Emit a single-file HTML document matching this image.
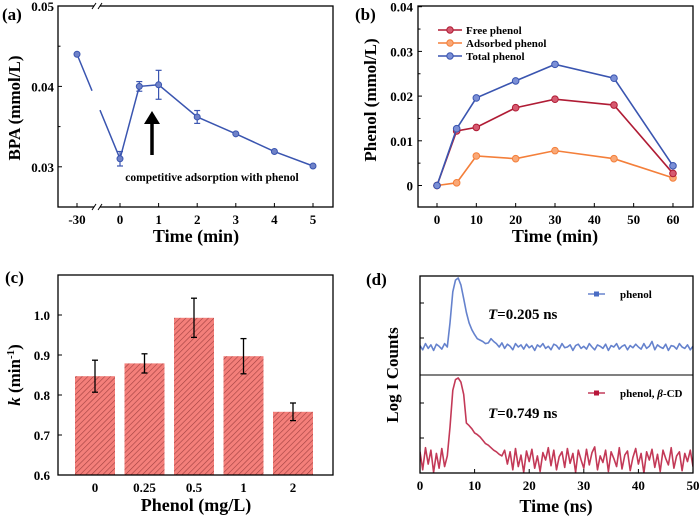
<!DOCTYPE html>
<html><head><meta charset="utf-8"><style>
html,body{margin:0;padding:0;background:#fff;}
svg{display:block;font-family:"Liberation Serif",serif;font-weight:bold;}
</style></head><body>
<svg id="fig" width="700" height="517" viewBox="0 0 700 517">
<defs>
<pattern id="hatch" patternUnits="userSpaceOnUse" width="4" height="4" patternTransform="rotate(45)">
<rect width="4" height="4" fill="#f47f7a"/><line x1="0" y1="0" x2="0" y2="4" stroke="#a04040" stroke-width="1.2"/>
</pattern>
<clipPath id="dclip"><rect x="420" y="276" width="273" height="197"/></clipPath>
</defs>
</svg>
<script>
// ---- Panel (a) data ----
const aTimes=[-30,0,0.5,1,2,3,4,5];
const aBPA=[0.0440,0.0310,0.0400,0.0402,0.0362,0.0341,0.0319,0.0301];
const aErr=[0.0002,0.0009,0.0006,0.0018,0.0008,0.0002,0.0002,0.0002];
const aXTicks=[-30,0,1,2,3,4,5];
const aYTicks=[0.05,0.04,0.03];
// ---- Panel (b) data ----
const bTimes=[0,5,10,20,30,45,60];
const bFree=[0,0.0122,0.0130,0.0174,0.0193,0.0180,0.0027];
const bAds=[0,0.0006,0.0066,0.0060,0.0078,0.0060,0.0017];
const bTotal=[0,0.0127,0.0196,0.0234,0.0271,0.0240,0.0044];
const bXTicks=[0,10,20,30,40,50,60];
const bYTicks=[0,0.01,0.02,0.03,0.04];
const bYLabels=["0","0.01","0.02","0.03","0.04"];
// ---- Panel (c) data ----
const cCats=["0","0.25","0.5","1","2"];
const cK=[0.847,0.879,0.993,0.897,0.758];
const cErr=[0.040,0.024,0.049,0.044,0.022];
const cYTicks=[0.6,0.7,0.8,0.9,1.0];
// ---- Panel (d) data (0.5 ns steps, 0..50 ns) ----
const dStep=0.5;
const dPhenol=[0.02,-0.04,0.05,-0.02,0.03,-0.05,0.04,0.01,-0.03,0.05,0.0,0.35,0.8,0.97,1.0,0.9,0.7,0.5,0.35,0.25,0.18,0.12,0.1,0.08,0.05,0.06,0.12,0.08,0.05,0.0,0.06,-0.02,0.04,0.01,-0.04,0.05,0.0,0.03,-0.03,0.04,-0.01,0.02,-0.05,0.03,0.0,0.05,-0.02,0.01,-0.04,0.04,0.02,-0.03,0.05,-0.01,0.0,0.03,-0.05,0.02,0.04,-0.02,0.01,-0.03,0.05,0.0,-0.04,0.03,0.01,-0.02,0.04,-0.05,0.02,0.0,0.05,-0.03,0.01,0.03,-0.04,0.02,-0.01,0.04,0.0,-0.03,0.05,-0.02,0.01,0.08,-0.04,0.03,0.0,-0.02,0.04,-0.05,0.02,0.01,-0.03,0.05,0.0,-0.02,0.03,-0.04,0.01];
const dPhenolCD=[0.1,-0.12,0.15,-0.05,0.12,-0.15,0.08,-0.1,0.14,-0.08,0.05,0.4,0.85,0.98,1.0,0.95,0.8,0.45,0.42,0.38,0.33,0.31,0.28,0.24,0.2,0.18,0.15,0.12,0.1,0.07,0.05,0.12,-0.05,0.1,-0.12,0.14,-0.08,0.06,-0.15,0.11,-0.02,0.13,-0.1,0.05,-0.14,0.09,0.0,0.15,-0.07,0.12,-0.12,0.04,0.1,-0.09,0.14,-0.04,0.08,-0.15,0.12,0.0,-0.1,0.13,-0.06,0.09,0.16,-0.12,0.05,-0.03,0.12,-0.14,0.1,0.02,-0.08,0.15,-0.11,0.06,0.11,-0.13,0.03,0.14,-0.05,0.08,-0.16,0.1,0.0,0.13,-0.09,0.07,-0.14,0.12,0.02,-0.06,0.15,-0.1,0.05,0.1,-0.13,0.08,-0.02,0.12,-0.08];

const NS='http://www.w3.org/2000/svg';
const svg=document.getElementById('fig');
function mk(tag,attrs,parent){const e=document.createElementNS(NS,tag);for(const k in attrs)e.setAttribute(k,attrs[k]);(parent||svg).appendChild(e);return e;}
function txt(s,x,y,size,anchor,parent){const t=mk('text',{x:x,y:y,'font-size':size,'text-anchor':anchor||'middle',fill:'#000'},parent);t.textContent=s;return t;}

// ================= Panel (a) =================
(function(){
const g=mk('g',{});


const L=58,R=333,T=6,B=207;
const y=v=>T+(0.05-v)/(0.025)*(B-T);
const x=t=>t<0?77:120+t*38.6;
const box=mk('rect',{x:L,y:T,width:R-L,height:B-T,fill:'none',stroke:'#000','stroke-width':1.3},g);


[[97,B],[97,T]].forEach(p=>{mk('rect',{x:p[0]-3,y:p[1]-3,width:6,height:6,fill:'#fff'},g);
mk('line',{x1:p[0]-5,y1:p[1]+3,x2:p[0]-1,y2:p[1]-3,stroke:'#000','stroke-width':1},g);
mk('line',{x1:p[0]+1,y1:p[1]+3,x2:p[0]+5,y2:p[1]-3,stroke:'#000','stroke-width':1},g);});
aYTicks.forEach(v=>{mk('line',{x1:L,y1:y(v),x2:L+4,y2:y(v),stroke:'#000'},g);
const t=txt(v.toFixed(2),L-4,y(v)+5,13,'end',g);});
[0.045,0.035].forEach(v=>mk('line',{x1:L,y1:y(v),x2:L+2.5,y2:y(v),stroke:'#000'},g));
aXTicks.forEach(v=>{mk('line',{x1:x(v),y1:B,x2:x(v),y2:B-4,stroke:'#000'},g);
const t=txt(String(v),x(v),B+17,13,'middle',g);});
let d='';
aTimes.forEach((t,i)=>{d+=(i?'L':'M')+x(t)+','+y(aBPA[i]);});
const ln=mk('path',{d:d,fill:'none',stroke:'#3a55b0','stroke-width':1.5},g);


const gx1=x(aTimes[0]),gx2=x(aTimes[1]),gy1=y(aBPA[0]),gy2=y(aBPA[1]);
const f1=(92-gx1)/(gx2-gx1),f2=(100-gx1)/(gx2-gx1);
mk('line',{x1:92,y1:gy1+(gy2-gy1)*f1,x2:100,y2:gy1+(gy2-gy1)*f2,stroke:'#fff','stroke-width':4},g);
aTimes.forEach((t,i)=>{
const cx=x(t),e=aErr[i];
if(e>0.0004){mk('line',{x1:cx,y1:y(aBPA[i]+e),x2:cx,y2:y(aBPA[i]-e),stroke:'#3a55b0','stroke-width':1.2},g);
[aBPA[i]+e,aBPA[i]-e].forEach(v=>mk('line',{x1:cx-3,y1:y(v),x2:cx+3,y2:y(v),stroke:'#3a55b0','stroke-width':1.2},g));}
const c=mk('circle',{cx:cx,cy:y(aBPA[i]),r:3,fill:'#6f82c8',stroke:'#3a55b0','stroke-width':1},g);


});
const ar=mk('g',{},g);


mk('line',{x1:152,y1:155,x2:152,y2:120,stroke:'#000','stroke-width':3.5},ar);
mk('polygon',{points:'144,124 152,111 160,124',fill:'#000'},ar);
const an=txt('competitive adsorption with phenol',212,181,11.5,'middle',g);

const xt=txt('Time (min)',196,242,18,'middle',g);

const yt=txt('BPA (mmol/L)',0,0,17,'middle',g);yt.setAttribute('transform','translate(20,108) rotate(-90)');

const pl=txt('(a)',2,20,17,'start',g);
})();

// ================= Panel (b) =================
(function(){
const g=mk('g',{});


const L=418,R=693,T=6,B=207;
const y=v=>185.5-v*4470;
const x=t=>437+t*3.933;
const box=mk('rect',{x:L,y:T,width:R-L,height:B-T,fill:'none',stroke:'#000','stroke-width':1.3},g);

bYTicks.forEach((v,i)=>{mk('line',{x1:L,y1:y(v),x2:L+4,y2:y(v),stroke:'#000'},g);
const t=txt(bYLabels[i],L-5,y(v)+5,13,'end',g);
if(i<bYTicks.length-1)mk('line',{x1:L,y1:y(v+0.005),x2:L+2.5,y2:y(v+0.005),stroke:'#000'},g);});
bXTicks.forEach(v=>{mk('line',{x1:x(v),y1:B,x2:x(v),y2:B-4,stroke:'#000'},g);
const t=txt(String(v),x(v),B+17,13,'middle',g);});
const series=[['adsorbed',bAds,'#f47f3a','#f9a877'],['free',bFree,'#b01c35','#d65a70'],['total',bTotal,'#3a55b0','#7b8fd6']];
series.forEach(s=>{
let d='';bTimes.forEach((t,i)=>{d+=(i?'L':'M')+x(t)+','+y(s[1][i]);});
const p=mk('path',{d:d,fill:'none',stroke:s[2],'stroke-width':1.6},g);

bTimes.forEach((t,i)=>{const c=mk('circle',{cx:x(t),cy:y(s[1][i]),r:3.3,fill:s[3],stroke:s[2],'stroke-width':1},g);
});
});
const leg=[['Free phenol','#b01c35','#d65a70'],['Adsorbed phenol','#f47f3a','#f9a877'],['Total phenol','#3a55b0','#7b8fd6']];
leg.forEach((l,i)=>{const ly=30+i*13;
const e=mk('g',{},g);
mk('line',{x1:438,y1:ly,x2:462,y2:ly,stroke:l[1],'stroke-width':1.6},e);
mk('circle',{cx:450,cy:ly,r:3.2,fill:l[2],stroke:l[1]},e);
txt(l[0],466,ly+4,11,'start',e);});
const xt=txt('Time (min)',555,242,18,'middle',g);
const yt=txt('Phenol (mmol/L)',0,0,17,'middle',g);yt.setAttribute('transform','translate(376,100) rotate(-90)');

const pl=txt('(b)',355,20,17,'start',g);
})();

// ================= Panel (c) =================
(function(){
const g=mk('g',{});


const L=58,R=333,T=275,B=475;
const y=v=>B-(v-0.6)*400;
const x=i=>95+i*49.5;
cCats.forEach((c,i)=>{
const b=mk('rect',{x:x(i)-20,y:y(cK[i]),width:40,height:B-y(cK[i]),fill:'url(#hatch)'},g);

const e=cErr[i],cx=x(i);
const eb=mk('g',{},g);
mk('line',{x1:cx,y1:y(cK[i]+e),x2:cx,y2:y(cK[i]-e),stroke:'#000','stroke-width':1.3},eb);
[cK[i]+e,cK[i]-e].forEach(v=>mk('line',{x1:cx-3,y1:y(v),x2:cx+3,y2:y(v),stroke:'#000','stroke-width':1.3},eb));
const t=txt(c,cx,B+17,13,'middle',g);
});
const box=mk('rect',{x:L,y:T,width:R-L,height:B-T,fill:'none',stroke:'#000','stroke-width':1.3},g);

cYTicks.forEach(v=>{mk('line',{x1:L,y1:y(v),x2:L+4,y2:y(v),stroke:'#000'},g);
const t=txt(v.toFixed(1),L-8,y(v)+5,13,'end',g);});
const xt=txt('Phenol (mg/L)',196,511,18,'middle',g);
const yt=mk('text',{'font-size':17,'text-anchor':'middle',transform:'translate(20,375) rotate(-90)'},g);
yt.innerHTML='<tspan font-style="italic">k</tspan> (min<tspan dy="-6" font-size="11">-1</tspan><tspan dy="6">)</tspan>';

const pl=txt('(c)',5,283,17,'start',g);
})();

// ================= Panel (d) =================
(function(){
const g=mk('g',{});


const L=420,R=693,T=276,B=473,M=375;
const x=t=>L+t*(R-L)/50;
const yTop=v=>347-v*69, yBot=v=>460-v*82;
const cg=mk('g',{'clip-path':'url(#dclip)'},g);
function trace(arr,yf,col,name){let d='';arr.forEach((v,i)=>{d+=(i?'L':'M')+x(i*dStep).toFixed(1)+','+yf(v).toFixed(1);});
const p=mk('path',{d:d,fill:'none',stroke:col,'stroke-width':1.6,'stroke-opacity':0.85,'stroke-linejoin':'round'},cg);
}
trace(dPhenol,yTop,'#4a6cc4','phenol-decay-trace');
trace(dPhenolCD,yBot,'#b8163a','phenol-cd-decay-trace');
const box=mk('rect',{x:L,y:T,width:R-L,height:B-T,fill:'none',stroke:'#000','stroke-width':1.3},g);

mk('line',{x1:L,y1:M,x2:R,y2:M,stroke:'#000','stroke-width':1},g);
[303,338,403,438].forEach(v=>mk('line',{x1:L,y1:v,x2:L+4,y2:v,stroke:'#000'},g));
[0,10,20,30,40,50].forEach(v=>{mk('line',{x1:x(v),y1:B,x2:x(v),y2:B-4,stroke:'#000'},g);
const t=txt(String(v),x(v),B+17,13,'middle',g);});
[['phenol','#4a6cc4',294],['phenol, ','#b8163a',393]].forEach((l,i)=>{
const e=mk('g',{},g);
mk('line',{x1:588,y1:l[2],x2:605,y2:l[2],stroke:l[1],'stroke-width':1.3},e);
mk('rect',{x:594,y:l[2]-2.5,width:5,height:5,fill:l[1]},e);
const t=txt(l[0],620,l[2]+4,11,'start',e);
if(i==1){t.innerHTML='phenol, <tspan font-style="italic">β</tspan>-CD';}
});
[['0.205',319],['0.749',418]].forEach(l=>{const t=mk('text',{x:488,y:l[1],'font-size':15},g);
t.innerHTML='<tspan font-style="italic">T</tspan>='+l[0]+' ns';
});
const xt=txt('Time (ns)',556,512,18,'middle',g);
const yt=txt('Log I Counts',0,0,17,'middle',g);yt.setAttribute('transform','translate(398,375) rotate(-90)');

const pl=txt('(d)',366,285,17,'start',g);
})();
</script>
</body></html>
